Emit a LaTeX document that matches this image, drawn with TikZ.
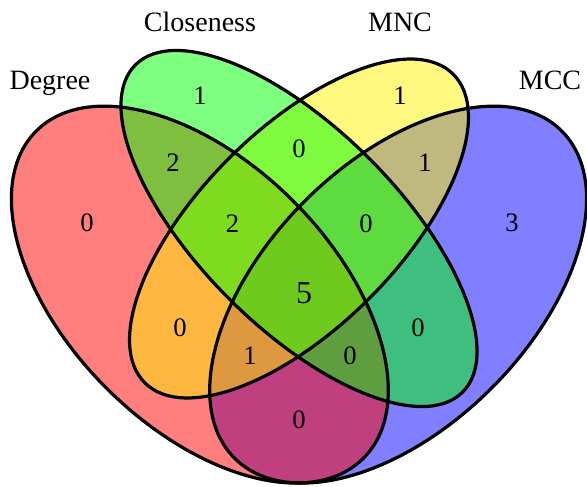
\documentclass[tikz,border=0pt]{standalone}
\usepackage{fontspec}
\setmainfont{Liberation Serif}
\begin{document}
\begin{tikzpicture}[x=495.75pt,y=495.75pt,
  setfill/.style={draw=none,fill=#1,fill opacity=0.5},
  setline/.style={draw=black,line width=2.4pt},
  setlabel/.style={inner sep=0pt,anchor=base,font=\fontsize{21}{25}\selectfont},
  count/.style={inner sep=0pt,anchor=base,font=\fontsize{20}{24}\selectfont},
  bigcount/.style={inner sep=0pt,anchor=base,font=\fontsize{24}{28}\selectfont}]
\useasboundingbox (0.04766,0.17895) rectangle (0.93570,0.91571);
\coordinate (cB) at (0.65,0.47);
\coordinate (cR) at (0.35,0.47);
\coordinate (cY) at (0.5,0.57);
\coordinate (cG) at (0.5,0.57);
% fills
\path[setfill=blue,shift={(cB)},rotate=45] (0,0) ellipse [x radius=0.35,y radius=0.2];
\path[setfill=red,shift={(cR)},rotate=135] (0,0) ellipse [x radius=0.35,y radius=0.2];
\path[setfill=yellow,shift={(cY)},rotate=45] (0,0) ellipse [x radius=0.33,y radius=0.15];
\path[setfill=green,shift={(cG)},rotate=135] (0,0) ellipse [x radius=0.35,y radius=0.15];
% borders
\path[setline,shift={(cB)},rotate=45] (0,0) ellipse [x radius=0.35,y radius=0.2];
\path[setline,shift={(cR)},rotate=135] (0,0) ellipse [x radius=0.35,y radius=0.2];
\path[setline,shift={(cY)},rotate=45] (0,0) ellipse [x radius=0.33,y radius=0.15];
\path[setline,shift={(cG)},rotate=135] (0,0) ellipse [x radius=0.35,y radius=0.15];
% set labels
\node[setlabel] (lD) at (0.1233,0.7796) {Degree};
\node[setlabel] (lC) at (0.3502,0.8673) {Closeness};
\node[setlabel] (lN) at (0.6528,0.8673) {MNC};
\node[setlabel] (lM) at (0.8797,0.7796) {MCC};
% counts
\node[count] (nR) at (0.1793,0.5662) {0};
\node[count] (nB) at (0.8222,0.5662) {3};
\node[count] (nG) at (0.3502,0.7570) {1};
\node[count] (nY) at (0.6528,0.7570) {1};
\node[count] (nRG) at (0.3094,0.6555) {2};
\node[count] (nYB) at (0.6906,0.6555) {1};
\node[count] (nGY) at (0.5,0.6767) {0};
\node[count] (nRGY) at (0.3995,0.5647) {2};
\node[count] (nGYB) at (0.6015,0.5647) {0};
\node[bigcount] (nAll) at (0.5076,0.4573) {5};
\node[count] (nRY) at (0.3200,0.4059) {0};
\node[count] (nGB) at (0.6800,0.4059) {0};
\node[count] (nRYB) at (0.4259,0.3650) {1};
\node[count] (nRGB) at (0.5772,0.3650) {0};
\node[count] (nRB) at (0.5,0.2667) {0};
\end{tikzpicture}
\end{document}
